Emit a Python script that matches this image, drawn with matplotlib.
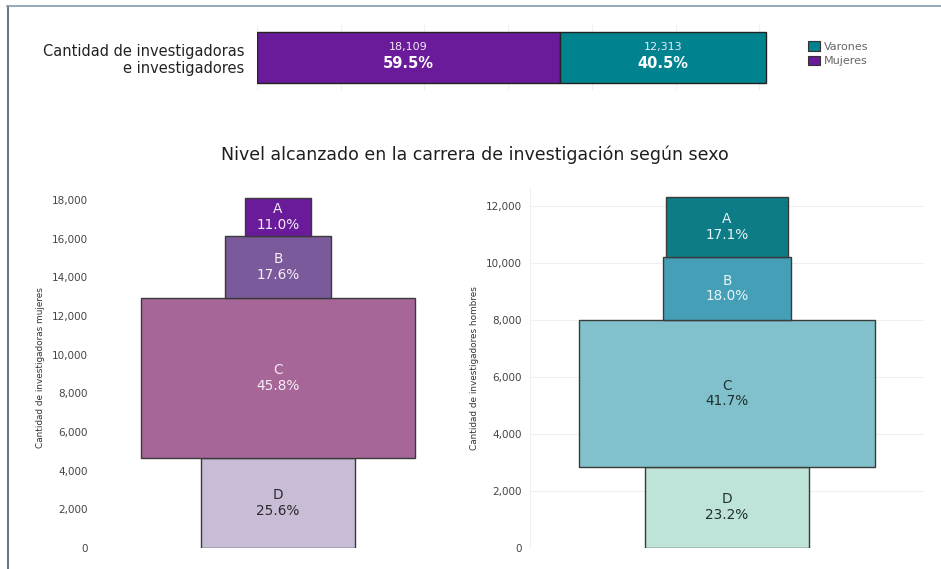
import matplotlib.pyplot as plt
from matplotlib.lines import Line2D
from matplotlib.patches import Patch
import numpy as np

# totals (top bar)
sexos = ['Mujeres', 'Varones']
total_n = [18109, 12313]
total_pct = [59.5, 40.5]

# levels, bottom to top
niveles = ['D', 'C', 'B', 'A']
mujeres_n = [4636, 8294, 3187, 1992]
mujeres_pct = [25.6, 45.8, 17.6, 11.0]
varones_n = [2857, 5135, 2216, 2105]
varones_pct = [23.2, 41.7, 18.0, 17.1]

col_sexo = {'Mujeres': '#6A1B9A', 'Varones': '#00838F'}
col_muj = ['#C9BCD6', '#A66697', '#7A5A9B', '#6A1B9A']
col_var = ['#BEE3D9', '#80C1CB', '#449FB7', '#0E7C86']
txt_muj = ['#2a2a2a', '#f6eef8', '#f6eef8', '#f6eef8']
txt_var = ['#1f2f2f', '#1f2f2f', '#e8f5f7', '#e8f5f7']

W, H = 941, 569
fig = plt.figure(figsize=(W / 100, H / 100), dpi=100)
fig.patch.set_facecolor('white')

def box(x0, y0, x1, y1):
    # pixel box (top-left origin) -> figure fraction
    return [x0 / W, 1 - y1 / H, (x1 - x0) / W, (y1 - y0) / H]

## Top stacked bar
ax_t = fig.add_axes(box(257, 25, 792, 90))
left = 0
for s, n, p in zip(sexos, total_n, total_pct):
    ax_t.barh(0, n, left=left, height=0.77, color=col_sexo[s],
              edgecolor='#222222', linewidth=1, zorder=3)
    cx = left + n / 2
    ax_t.annotate('{:,}'.format(n), (cx, 0), xytext=(0, 7.5), textcoords='offset points',
                  ha='center', va='center', fontsize=8, color='#f2e9f6')
    ax_t.annotate('{:.1f}%'.format(p), (cx, 0), xytext=(0, -4), textcoords='offset points',
                  ha='center', va='center', fontsize=10.5, fontweight='bold', color='white')
    left += n
ax_t.set_xlim(0, 31950)
ax_t.set_ylim(-0.5, 0.5)
ax_t.set_xticks(np.arange(0, 31000, 5000))
ax_t.set_xticklabels([])
ax_t.grid(axis='x', color='#f0f0f0', linewidth=0.8, zorder=0)
ax_t.set_yticks([0])
ax_t.set_yticklabels(['Cantidad de investigadoras\ne investigadores'], fontsize=10.5,
                     color='#222222', ha='right', multialignment='right')
ax_t.tick_params(length=0, pad=9)
for sp in ax_t.spines.values():
    sp.set_visible(False)

handles = [Patch(facecolor=col_sexo['Varones'], edgecolor='#333333', linewidth=0.8),
           Patch(facecolor=col_sexo['Mujeres'], edgecolor='#333333', linewidth=0.8)]
fig.legend(handles, ['Varones', 'Mujeres'], loc='upper left',
           bbox_to_anchor=(804 / W, 1 - 37 / H), frameon=False, fontsize=8,
           labelcolor='#666666', handlelength=1.0, handleheight=1.0,
           handletextpad=0.4, labelspacing=0.3, borderaxespad=0)

fig.text(475 / W, 1 - 155 / H, 'Nivel alcanzado en la carrera de investigación según sexo',
         ha='center', va='center', fontsize=12.5, color='#1e1e1e')

def funnel(ax, counts, pcts, colors, tcolors, xlim, ylim, ylabel, yticks, grid):
    bottom = 0
    for lvl, n, p, c, tc in zip(niveles, counts, pcts, colors, tcolors):
        ax.bar(0, n, width=n, bottom=bottom, color=c, edgecolor='#3a3a3a',
               linewidth=1, zorder=3)
        ax.text(0, bottom + n / 2, '{}\n{:.1f}%'.format(lvl, p), ha='center', va='center',
                fontsize=9.8, color=tc, linespacing=1.15, zorder=4)
        bottom += n
    ax.set_xlim(-xlim, xlim)
    ax.set_ylim(0, ylim)
    ax.set_xticks([])
    ax.set_yticks(yticks)
    ax.set_yticklabels(['{:,}'.format(t) for t in yticks], fontsize=7.5, color='#444444')
    ax.tick_params(length=0, pad=6)
    ax.set_ylabel(ylabel, fontsize=6.4, color='#333333', labelpad=5)
    for sp in ax.spines.values():
        sp.set_visible(False)
    if grid:
        ax.grid(axis='y', color='#efefef', linewidth=0.8, zorder=0)
        ax.spines['left'].set_visible(True)
        ax.spines['left'].set_color('#f0f0f0')

ax_l = fig.add_axes(box(96, 188, 460, 548))
funnel(ax_l, mujeres_n, mujeres_pct, col_muj, txt_muj, 5496, 18624,
       'Cantidad de investigadoras mujeres', list(range(0, 18001, 2000)), False)

ax_r = fig.add_axes(box(530, 188, 924, 548))
funnel(ax_r, varones_n, varones_pct, col_var, txt_var, 3418, 12632,
       'Cantidad de investigadores hombres', list(range(0, 12001, 2000)), True)

## Frame
fig.add_artist(Line2D([7.5 / W, 7.5 / W], [0, 1 - 6 / H], transform=fig.transFigure,
                      color='#55697b', linewidth=1.3))
fig.add_artist(Line2D([7 / W, 1], [1 - 6 / H, 1 - 6 / H], transform=fig.transFigure,
                      color='#8fa2b4', linewidth=1.3))

fig.savefig('out.png', dpi=100)
